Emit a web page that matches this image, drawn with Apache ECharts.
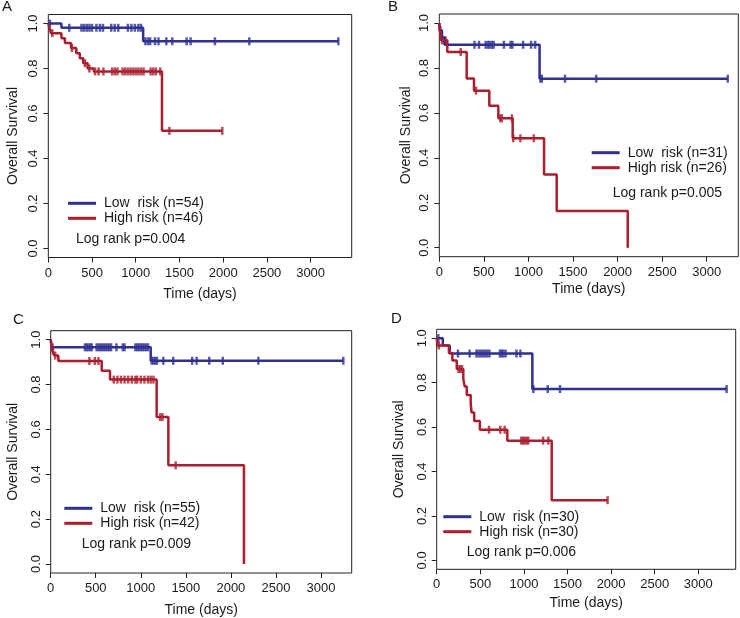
<!DOCTYPE html>
<html>
<head>
<meta charset="utf-8">
<title></title>
<style type="text/css">
  body { margin:0; background:#fff; }
  #main { width:740px; height:618px; }
</style>
</head>
<body>
<div id="main"></div>
<script src="https://cdn.jsdelivr.net/npm/echarts@6/dist/echarts.min.js"></script>
<script type="text/javascript">
// ---- data (time in days, survival) ----
// A
var aLowTime = [0, 150, 1085, 3317];
var aLowSurv = [1, 0.981, 0.921, 0.921];
var aLowCens = [19, 240, 380, 410, 440, 470, 500, 550, 590, 625, 720, 760, 800, 910, 950, 990, 1030, 1060,
                1110, 1140, 1165, 1220, 1260, 1350, 1418, 1582, 1628, 1906, 2299, 3317];
var aHighTime = [0, 15, 30, 150, 190, 260, 320, 360, 400, 450, 520, 1300, 1990];
var aHighSurv = [1, 0.978, 0.957, 0.935, 0.913, 0.891, 0.868, 0.846, 0.823, 0.80, 0.787, 0.523, 0.523];
var aHighCens = [46, 270, 420, 470, 535, 575, 630, 730, 760, 790, 850, 880, 910, 940, 970, 1000, 1030, 1060,
                 1090, 1170, 1200, 1230, 1280, 1385, 1990];
// B
var bLowTime = [0, 5, 30, 60, 1125, 3236];
var bLowSurv = [1, 0.968, 0.935, 0.903, 0.752, 0.752];
var bLowCens = [12, 395, 445, 520, 545, 565, 590, 610, 725, 800, 820, 940, 1030, 1075, 1135, 1150, 1410, 1760, 3236];
var bHighTime = [0, 8, 20, 90, 307, 389, 561, 662, 823, 1175, 1317, 2114];
var bHighSurv = [1, 0.962, 0.923, 0.871, 0.753, 0.699, 0.632, 0.576, 0.487, 0.326, 0.163, 0];
var bHighCens = [30, 50, 70, 240, 412, 685, 700, 815, 830, 910, 1060];
// C
var cLowTime = [0, 11, 1110, 3248];
var cLowSurv = [1, 0.966, 0.906, 0.906];
var cLowCens = [20, 380, 400, 420, 440, 455, 510, 530, 550, 570, 590, 610, 630, 650, 670, 730, 800, 820,
                940, 960, 980, 1000, 1020, 1040, 1060, 1080, 1120, 1140, 1160, 1180, 1250, 1360, 1570, 1620,
                1760, 1910, 2305, 3248];
var cHighTime = [0, 8, 20, 40, 85, 566, 658, 1176, 1306, 2145];
var cHighSurv = [1, 0.976, 0.952, 0.929, 0.905, 0.862, 0.822, 0.655, 0.44, 0];
var cHighCens = [25, 50, 430, 490, 530, 700, 740, 780, 820, 860, 900, 940, 960, 1000, 1040, 1080, 1110,
                 1140, 1215, 1240, 1387];
// D
var dLowTime = [0, 70, 150, 1097, 3325];
var dLowSurv = [1, 0.967, 0.931, 0.771, 0.771];
var dLowCens = [19, 244, 378, 455, 480, 505, 530, 555, 580, 605, 725, 745, 765, 790, 915, 960, 1108, 1273, 1414, 3325];
var dHighTime = [0, 10, 140, 180, 230, 305, 320, 345, 390, 400, 430, 495, 810, 1319, 1960];
var dHighSurv = [1, 0.967, 0.933, 0.9, 0.861, 0.818, 0.783, 0.744, 0.705, 0.666, 0.627, 0.588, 0.539, 0.271, 0.271];
var dHighCens = [25, 250, 270, 290, 600, 730, 780, 970, 990, 1010, 1030, 1050, 1220, 1280, 1960];

var xTicks = [0, 500, 1000, 1500, 2000, 2500, 3000];
var yTicks = [0, 0.2, 0.4, 0.6, 0.8, 1.0];

var panels = [
  {tag:'A', low:'Low  risk (n=54)', high:'High risk (n=46)', p:'Log rank p=0.004',
   lt:aLowTime, ls:aLowSurv, lc:aLowCens, ht:aHighTime, hs:aHighSurv, hc:aHighCens,
   box:[48.3, 14.5, 351.7, 257.5], xmax:3470, nameGap:30, yNameGap:28,
   tagXY:[2, 7], leg:[68, 203.3], pXY:[76, 239.3]},
  {tag:'B', low:'Low  risk (n=31)', high:'High risk (n=26)', p:'Log rank p=0.005',
   lt:bLowTime, ls:bLowSurv, lc:bLowCens, ht:bHighTime, hs:bHighSurv, hc:bHighCens,
   box:[439.3, 14, 738.3, 256.7], xmax:3354, nameGap:25, yNameGap:26,
   tagXY:[388, 7], leg:[591.7, 152.7], pXY:[612.7, 193.3]},
  {tag:'C', low:'Low  risk (n=55)', high:'High risk (n=42)', p:'Log rank p=0.009',
   lt:cLowTime, ls:cLowSurv, lc:cLowCens, ht:cHighTime, hs:cHighSurv, hc:cHighCens,
   box:[50.7, 330.7, 351.7, 573.3], xmax:3341, nameGap:30, yNameGap:31,
   tagXY:[13, 320], leg:[64.3, 508.3], pXY:[81.7, 544.3]},
  {tag:'D', low:'Low  risk (n=30)', high:'High risk (n=30)', p:'Log rank p=0.006',
   lt:dLowTime, ls:dLowSurv, lc:dLowCens, ht:dHighTime, hs:dHighSurv, hc:dHighCens,
   box:[436.7, 329.3, 735.7, 569.3], xmax:3429, nameGap:27, yNameGap:31,
   tagXY:[391, 319], leg:[443.3, 516.7], pXY:[466.7, 552.3]}
];

var BLUE = '#2e3192', RED = '#ab1e2e', INK = '#1a1a1a';
var FONT = '"Liberation Sans", Arial, sans-serif';

function pairs(t, s) {
  var out = [];
  for (var i = 0; i < t.length; i++) out.push([t[i], s[i]]);
  return out;
}
// censor marks sit on the curve at their time
function survAt(t, s, x) {
  var v = s[0];
  for (var i = 0; i < t.length; i++) { if (t[i] <= x) v = s[i]; }
  return v;
}
function marks(t, s, c) {
  return c.map(function (x) { return [x, survAt(t, s, x)]; });
}

var grids = [], xAxes = [], yAxes = [], series = [], legends = [], graphics = [];

panels.forEach(function (p, i) {
  grids.push({
    left: p.box[0], top: p.box[1], width: p.box[2] - p.box[0], height: p.box[3] - p.box[1],
    show: true, borderColor: '#222', borderWidth: 1, backgroundColor: 'transparent'
  });
  xAxes.push({
    type: 'value', gridIndex: i, min: 0, max: p.xmax,
    name: 'Time (days)', nameLocation: 'middle', nameGap: p.nameGap,
    nameTextStyle: {fontSize: 14, color: INK, fontFamily: FONT},
    axisLine: {show: false, onZero: false},
    axisTick: {show: true, length: 5, customValues: xTicks, lineStyle: {color: '#222'}},
    axisLabel: {customValues: xTicks, margin: 9, fontSize: 13, color: INK, fontFamily: FONT,
                formatter: function (v) { return String(v); }},
    splitLine: {show: false}
  });
  yAxes.push({
    type: 'value', gridIndex: i, min: -0.04, max: 1.04,
    name: 'Overall Survival', nameLocation: 'middle', nameGap: p.yNameGap,
    nameTextStyle: {fontSize: 14, color: INK, fontFamily: FONT},
    axisLine: {show: false, onZero: false},
    axisTick: {show: true, length: 5, customValues: yTicks, lineStyle: {color: '#222'}},
    axisLabel: {customValues: yTicks, rotate: 90, margin: 8, fontSize: 13, color: INK, fontFamily: FONT,
                formatter: function (v) { return v.toFixed(1); }},
    splitLine: {show: false}
  });
  series.push({
    name: p.low, type: 'line', step: 'end', xAxisIndex: i, yAxisIndex: i,
    data: pairs(p.lt, p.ls), showSymbol: false, color: BLUE, lineStyle: {width: 2.5, color: BLUE}
  });
  series.push({
    name: p.high, type: 'line', step: 'end', xAxisIndex: i, yAxisIndex: i,
    data: pairs(p.ht, p.hs), showSymbol: false, color: RED, lineStyle: {width: 2.5, color: RED}
  });
  series.push({
    name: p.tag + ' low censored', type: 'scatter', xAxisIndex: i, yAxisIndex: i,
    data: marks(p.lt, p.ls, p.lc), symbol: 'rect', symbolSize: [2.5, 8], itemStyle: {color: BLUE}
  });
  series.push({
    name: p.tag + ' high censored', type: 'scatter', xAxisIndex: i, yAxisIndex: i,
    data: marks(p.ht, p.hs, p.hc), symbol: 'rect', symbolSize: [2.5, 8], itemStyle: {color: RED}
  });
  legends.push({
    data: [p.low, p.high], orient: 'vertical', left: p.leg[0], top: p.leg[1] - 7.5,
    padding: 0, itemGap: 0, itemWidth: 28, itemHeight: 3, icon: 'rect', selectedMode: false,
    textStyle: {fontSize: 14, lineHeight: 15, color: INK, fontFamily: FONT, padding: [0, 0, 0, 3]}
  });
  graphics.push({
    type: 'text', x: p.tagXY[0], y: p.tagXY[1],
    style: {text: p.tag, font: '15px ' + FONT, fill: INK, verticalAlign: 'middle'}
  });
  graphics.push({
    type: 'text', x: p.pXY[0], y: p.pXY[1],
    style: {text: p.p, font: '14px ' + FONT, fill: INK, verticalAlign: 'middle'}
  });
});

var myChart = echarts.init(document.getElementById('main'));
myChart.setOption({
  animation: false,
  backgroundColor: '#fff',
  grid: grids,
  xAxis: xAxes,
  yAxis: yAxes,
  legend: legends,
  graphic: graphics,
  series: series
});
</script>
</body>
</html>
